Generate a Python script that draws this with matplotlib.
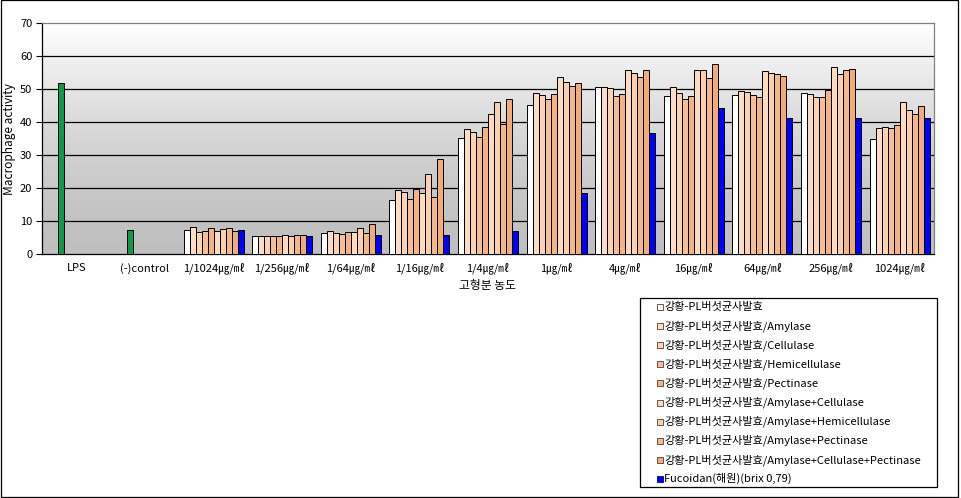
import numpy as np
import matplotlib
matplotlib.use("Agg")
import matplotlib.pyplot as plt
from matplotlib.patches import Rectangle

plt.rcParams['font.family'] = ['Noto Sans CJK KR', 'DejaVu Sans']

categories = ['LPS', '(-)control', '1/1024㎍/㎖', '1/256㎍/㎖', '1/64㎍/㎖', '1/16㎍/㎖',
              '1/4㎍/㎖', '1㎍/㎖', '4㎍/㎖', '16㎍/㎖', '64㎍/㎖', '256㎍/㎖', '1024㎍/㎖']
control_labels = ['LPS', '(-)control']
control_values = [51.9, 7.4]

series_names = [
    '강황-PL버섯균사발효',
    '강황-PL버섯균사발효/Amylase',
    '강황-PL버섯균사발효/Cellulase',
    '강황-PL버섯균사발효/Hemicellulase',
    '강황-PL버섯균사발효/Pectinase',
    '강황-PL버섯균사발효/Amylase+Cellulase',
    '강황-PL버섯균사발효/Amylase+Hemicellulase',
    '강황-PL버섯균사발효/Amylase+Pectinase',
    '강황-PL버섯균사발효/Amylase+Cellulase+Pectinase',
    'Fucoidan(해원)(brix 0,79)',
]
s1 = [7.4, 5.6, 6.4, 16.4, 35.3, 45.1, 50.6, 47.9, 48.2, 48.8, 34.8]
s2 = [8.2, 5.6, 7.0, 19.4, 38.0, 48.8, 50.6, 50.6, 49.5, 48.7, 38.2]
s3 = [6.8, 5.6, 6.6, 18.8, 37.0, 48.2, 50.3, 48.8, 49.1, 47.6, 38.6]
s4 = [7.2, 5.6, 6.2, 16.7, 35.5, 47.2, 47.9, 47.0, 48.2, 47.6, 38.2]
s5 = [7.9, 5.6, 6.9, 19.9, 38.5, 48.6, 48.7, 47.9, 47.6, 49.9, 39.1]
s6 = [7.2, 5.9, 6.8, 18.5, 42.4, 53.7, 55.7, 55.8, 55.4, 56.7, 46.1]
s7 = [7.6, 5.6, 8.1, 24.3, 46.1, 52.1, 54.8, 55.8, 54.8, 54.5, 43.6]
s8 = [7.9, 5.9, 6.6, 17.3, 39.6, 50.9, 53.6, 53.3, 54.7, 55.8, 42.4]
s9 = [7.1, 5.9, 9.1, 28.8, 47.0, 51.8, 55.7, 57.6, 54.0, 56.1, 44.8]
fucoidan = [7.4, 5.6, 5.7, 5.8, 7.1, 18.6, 36.8, 44.3, 41.3, 41.3, 41.3]
series = [s1, s2, s3, s4, s5, s6, s7, s8, s9, fucoidan]

colors = ['#FFFFFF', '#FCDCC4', '#FAD2B4', '#F6BE98', '#F4B285',
          '#FCDBC0', '#FAD0B0', '#F2B88C', '#F2AC78', '#0000FF']
green = '#0E9A48'

W, H = 961, 498
fig = plt.figure(figsize=(W / 100, H / 100), dpi=100)
ax = fig.add_axes([42 / W, 1 - 254.3 / H, (934 - 42) / W, (254.3 - 23.3) / H])

# gradient background
f = np.linspace(0, 1, 256).reshape(-1, 1)
g = 0.75 + 0.25 * f ** 1.5
img = np.dstack([g, g, g])
ax.imshow(img, extent=[0, 1, 0, 1], transform=ax.transAxes, origin='lower',
          aspect='auto', zorder=0)

n = len(series)
bw = 0.0875
x = np.arange(len(categories))
conc_x = x[2:]
for i, (vals, c) in enumerate(zip(series, colors)):
    ax.bar(conc_x + (i - (n - 1) / 2) * bw, vals, width=bw, color=c,
           edgecolor='black', linewidth=0.7, zorder=3)
ax.bar(x[:2] + (2 - (n - 1) / 2) * bw, control_values, width=bw, color=green,
       edgecolor='black', linewidth=0.7, zorder=3)

ax.set_xlim(-0.5, len(categories) - 0.5)
ax.set_ylim(0, 70)
ax.set_yticks(range(0, 71, 10))
for yv in range(10, 70, 10):
    ax.axhline(yv, color='black', linewidth=0.9, zorder=1)
ax.set_xticks(x)
ax.set_xticklabels(categories, fontsize=8)
ax.tick_params(axis='x', length=0, pad=6)
ax.tick_params(axis='y', length=4, width=0.8, labelsize=8, pad=3, direction='out')
for s in ['left', 'bottom']:
    ax.spines[s].set_color('black')
    ax.spines[s].set_linewidth(0.9)
for s in ['top', 'right']:
    ax.spines[s].set_color('#808080')
    ax.spines[s].set_linewidth(0.9)
ax.set_ylabel('Macrophage activity', fontsize=8.5)
ax.yaxis.set_label_coords(-26 / (934 - 42), 0.5)
fig.text(488 / W, 1 - 285 / H, '고형분 농도', ha='center', va='center', fontsize=8.5)

# legend (manual box)
lx0, ly0, lx1, ly1 = 640, 298, 937, 487
fig.patches.append(Rectangle((lx0 / W, 1 - ly1 / H), (lx1 - lx0) / W, (ly1 - ly0) / H,
                             transform=fig.transFigure, facecolor='white',
                             edgecolor='black', linewidth=0.9, zorder=5))
for i, (name, c) in enumerate(zip(series_names, colors)):
    yc = 307 + i * 19.1
    ec = '#000080' if i == 9 else '#5a3a2a'
    fig.patches.append(Rectangle((657 / W, 1 - (yc + 3) / H), 6 / W, 6 / H,
                                 transform=fig.transFigure, facecolor=c,
                                 edgecolor=ec, linewidth=0.6, zorder=6))
    fig.text(664 / W, 1 - yc / H, name, ha='left', va='center', fontsize=8, zorder=7)

# outer border
fig.patches.append(Rectangle((0.5 / W, 1 - 497 / H), 957.5 / W, 496.5 / H,
                             transform=fig.transFigure, facecolor='none',
                             edgecolor='black', linewidth=0.9, zorder=8))

fig.savefig('out.png', dpi=100)
